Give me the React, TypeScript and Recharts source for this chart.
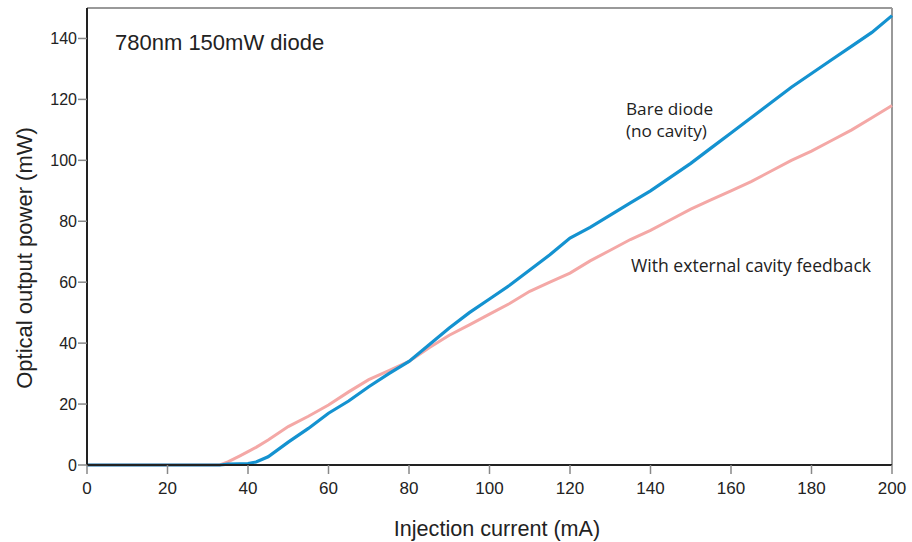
import { LineChart, Line, XAxis, YAxis, ReferenceLine } from "recharts";

// injection current (mA)
const current = [0, 10, 20, 30, 33, 35, 38, 40, 42, 45, 50, 55, 60, 65, 70, 75, 80, 85, 90, 95, 100, 105, 110, 115, 120, 125, 130, 135, 140, 145, 150, 155, 160, 165, 170, 175, 180, 185, 190, 195, 200];
// optical output power (mW)
const bareDiode = [0, 0, 0, 0, 0, 0.3, 0.4, 0.5, 1, 2.7, 7.5, 12, 17, 21, 25.7, 30, 34, 39.5, 45, 50, 54.5, 59, 64, 69, 74.5, 78, 82, 86, 90, 94.5, 99, 104, 109, 114, 119, 124, 128.5, 133, 137.5, 142, 147.5];
const withCavity = [0, 0, 0, 0, 0, 1, 3, 4.4, 5.8, 8.2, 12.6, 16, 19.7, 24, 28, 31, 34, 38.5, 42.6, 46, 49.5, 53, 57, 60, 63, 67, 70.5, 74, 77, 80.5, 84, 87, 90, 93, 96.5, 100, 103, 106.5, 110, 114, 118];

const xTicks = [0, 20, 40, 60, 80, 100, 120, 140, 160, 180, 200];
const yTicks = [0, 20, 40, 60, 80, 100, 120, 140];

const data = current.map((c, i) => ({
  current: c,
  bare: bareDiode[i],
  cavity: withCavity[i],
}));

const axisFont = "'Liberation Sans', Arial, Helvetica, sans-serif";
const noteFont = "'Open Sans', 'Noto Sans', sans-serif";

export default function App() {
  return (
    <div style={{ position: "absolute", left: 0, top: 0, background: "#fff" }}>
      <LineChart
        width={912}
        height={542}
        data={data}
        margin={{ top: 8, right: 20, left: 0, bottom: 0 }}
      >
        <XAxis
          dataKey="current"
          type="number"
          domain={[0, 200]}
          ticks={xTicks}
          height={77}
          tick={{ fontSize: 17, fill: "#222", fontFamily: axisFont }}
          tickSize={9}
          tickMargin={8}
          tickLine={{ stroke: "#888", strokeWidth: 1.5 }}
          axisLine={{ stroke: "#222", strokeWidth: 2 }}
        />
        <YAxis
          type="number"
          domain={[0, 150]}
          ticks={yTicks}
          width={87}
          tick={{ fontSize: 16, fill: "#222", fontFamily: axisFont }}
          tickSize={9}
          tickMargin={1}
          tickLine={{ stroke: "#888", strokeWidth: 1.5 }}
          axisLine={{ stroke: "#222", strokeWidth: 2 }}
        />
        <ReferenceLine y={150} stroke="#999" strokeWidth={2} />
        <ReferenceLine x={200} stroke="#999" strokeWidth={2} />
        <Line
          type="linear"
          dataKey="cavity"
          stroke="#f4a8a6"
          strokeWidth={3}
          dot={false}
          activeDot={false}
          isAnimationActive={false}
        />
        <Line
          type="linear"
          dataKey="bare"
          stroke="#1492d0"
          strokeWidth={3.2}
          dot={false}
          activeDot={false}
          isAnimationActive={false}
        />
        <text x={115} y={50} fontSize={22} fill="#222" fontFamily={axisFont}>
          780nm 150mW diode
        </text>
        <text x={626} y={115} fontSize={17.2} fill="#222" fontFamily={noteFont}>
          Bare diode
        </text>
        <text x={626} y={137} fontSize={17.2} fill="#222" fontFamily={noteFont}>
          (no cavity)
        </text>
        <text x={631} y={272} fontSize={17.6} fill="#222" fontFamily={noteFont}>
          With external cavity feedback
        </text>
        <text x={497} y={536} fontSize={21.6} fill="#222" fontFamily={axisFont} textAnchor="middle">
          Injection current (mA)
        </text>
        <text
          x={32}
          y={258}
          fontSize={22}
          fill="#222"
          fontFamily={axisFont}
          textAnchor="middle"
          transform="rotate(-90 32 258)"
        >
          Optical output power (mW)
        </text>
      </LineChart>
    </div>
  );
}
